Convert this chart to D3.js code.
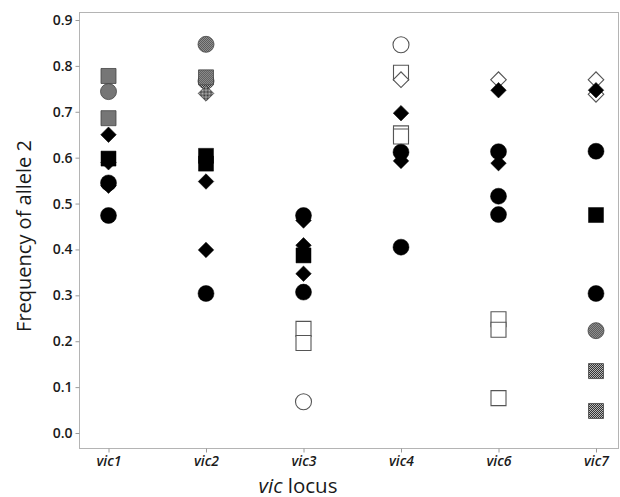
<!DOCTYPE html>
<html>
<head>
<meta charset="utf-8">
<script src="https://cdn.jsdelivr.net/npm/d3@7"></script>
<style>
  html, body { margin: 0; padding: 0; background: #fff; }
  svg { display: block; font-family: "Open Sans", "Noto Sans", sans-serif; }
</style>
</head>
<body>
<svg id="chart" width="620" height="497"></svg>
<script>
// ---- data ----
const categories = ["vic1", "vic2", "vic3", "vic4", "vic6", "vic7"];
const yTicks = [0.0, 0.1, 0.2, 0.3, 0.4, 0.5, 0.6, 0.7, 0.8, 0.9];

// each array is aligned with categories; each entry lists the values at that locus
const hatchedCircle  = [[0.744], [0.847, 0.767], [], [], [], [0.223]];
const hatchedSquare  = [[0.778, 0.686], [0.775], [], [], [], [0.135, 0.048]];
const hatchedDiamond = [[], [0.740], [], [], [], []];
const openCircle     = [[], [], [0.068], [0.846], [], []];
const openSquare     = [[], [], [0.227, 0.196], [0.785, 0.653, 0.646], [0.248, 0.225, 0.076], []];
const openDiamond    = [[], [], [], [0.770], [0.770], [0.770, 0.738]];
const filledDiamond  = [[0.650, 0.590, 0.539], [0.548, 0.399], [0.463, 0.409, 0.347], [0.697, 0.593], [0.747, 0.588], [0.747]];
const filledSquare   = [[0.598], [0.604, 0.587], [0.387], [], [], [0.475]];
const filledCircle   = [[0.545, 0.474], [0.304], [0.474, 0.307], [0.612, 0.405], [0.613, 0.516, 0.476], [0.614, 0.304]];

const seriesList = [
  { values: hatchedCircle,  shape: "circle",  fill: "hatched" },
  { values: hatchedSquare,  shape: "square",  fill: "hatched" },
  { values: hatchedDiamond, shape: "diamond", fill: "hatched" },
  { values: openCircle,     shape: "circle",  fill: "open" },
  { values: openSquare,     shape: "square",  fill: "open" },
  { values: openDiamond,    shape: "diamond", fill: "open" },
  { values: filledDiamond,  shape: "diamond", fill: "filled" },
  { values: filledSquare,   shape: "square",  fill: "filled" },
  { values: filledCircle,   shape: "circle",  fill: "filled" }
];

// ---- layout ----
const svg = d3.select("#chart");
const frame = { left: 79, right: 618, top: 12, bottom: 448 };

const x = d3.scalePoint().domain(categories).range([108.5, 596]);
const y = d3.scaleLinear().domain([0, 0.9]).range([433, 20]);

// pattern for hatched markers
const defs = svg.append("defs");
const pat = defs.append("pattern")
  .attr("id", "hatch").attr("patternUnits", "userSpaceOnUse")
  .attr("width", 2).attr("height", 2);
pat.append("rect").attr("width", 2).attr("height", 2).attr("fill", "#bdbdbd");
pat.append("rect").attr("width", 1).attr("height", 1).attr("fill", "#2e2e2e");
pat.append("rect").attr("x", 1).attr("y", 1).attr("width", 1).attr("height", 1).attr("fill", "#2e2e2e");

// frame
svg.append("rect")
  .attr("x", frame.left + 0.5).attr("y", frame.top + 0.5)
  .attr("width", frame.right - frame.left).attr("height", frame.bottom - frame.top)
  .attr("fill", "none").attr("stroke", "#b4b4b4").attr("stroke-width", 1);

// y axis
const yAxis = svg.append("g")
  .attr("transform", `translate(${frame.left + 0.5},0)`)
  .call(d3.axisLeft(y).tickValues(yTicks).tickFormat(d3.format(".1f")).tickSize(4).tickPadding(3));
yAxis.select(".domain").remove();
yAxis.selectAll(".tick line").attr("stroke", "#9a9a9a");
yAxis.selectAll(".tick text").attr("fill", "#1a1a1a").style("font-size", "14px")
  .style("font-weight", "600")
  .style("font-family", "'Open Sans', 'Noto Sans', sans-serif");

// x axis
const xAxis = svg.append("g")
  .attr("transform", `translate(0,${frame.bottom + 0.5})`)
  .call(d3.axisBottom(x).tickSize(4).tickPadding(3.5));
xAxis.select(".domain").remove();
xAxis.selectAll(".tick line").attr("stroke", "#9a9a9a");
xAxis.selectAll(".tick text").attr("fill", "#1a1a1a").style("font-size", "14px")
  .style("font-style", "italic").style("font-weight", "600")
  .style("font-family", "'Open Sans', 'Noto Sans', sans-serif");

// axis titles
svg.append("text")
  .attr("transform", `translate(31,${(frame.top + frame.bottom) / 2 + 6}) rotate(-90)`)
  .attr("text-anchor", "middle")
  .style("font-size", "20px").style("font-weight", "500").attr("fill", "#1a1a1a")
  .text("Frequency of allele 2");

const xt = svg.append("text")
  .attr("x", 298).attr("y", 492.5)
  .attr("text-anchor", "middle")
  .style("font-size", "20.5px").style("font-weight", "500").attr("fill", "#1a1a1a");
xt.append("tspan").style("font-style", "italic").text("vic");
xt.append("tspan").text(" locus");

// markers
const symbolGen = {
  circle: d3.symbol().type(d3.symbolCircle).size(Math.PI * 8 * 8),
  square: d3.symbol().type(d3.symbolSquare).size(15 * 15),
  diamond: d3.symbol().type(d3.symbolSquare).size(11 * 11)
};
const styles = {
  filled:  { fill: "#000", stroke: "#000", sw: 0.5 },
  hatched: { fill: "url(#hatch)", stroke: "#444", sw: 0.8 },
  open:    { fill: "#fff", stroke: "#555", sw: 1.1 }
};

const points = [];
seriesList.forEach(s => {
  s.values.forEach((vals, i) => {
    vals.forEach(v => points.push({ cat: categories[i], value: v, shape: s.shape, fill: s.fill }));
  });
});

svg.append("g").selectAll("path").data(points).join("path")
  .attr("d", d => symbolGen[d.shape]())
  .attr("transform", d => `translate(${x(d.cat)},${y(d.value)})` + (d.shape === "diamond" ? " rotate(45)" : ""))
  .attr("fill", d => styles[d.fill].fill)
  .attr("stroke", d => styles[d.fill].stroke)
  .attr("stroke-width", d => styles[d.fill].sw);
</script>
</body>
</html>
